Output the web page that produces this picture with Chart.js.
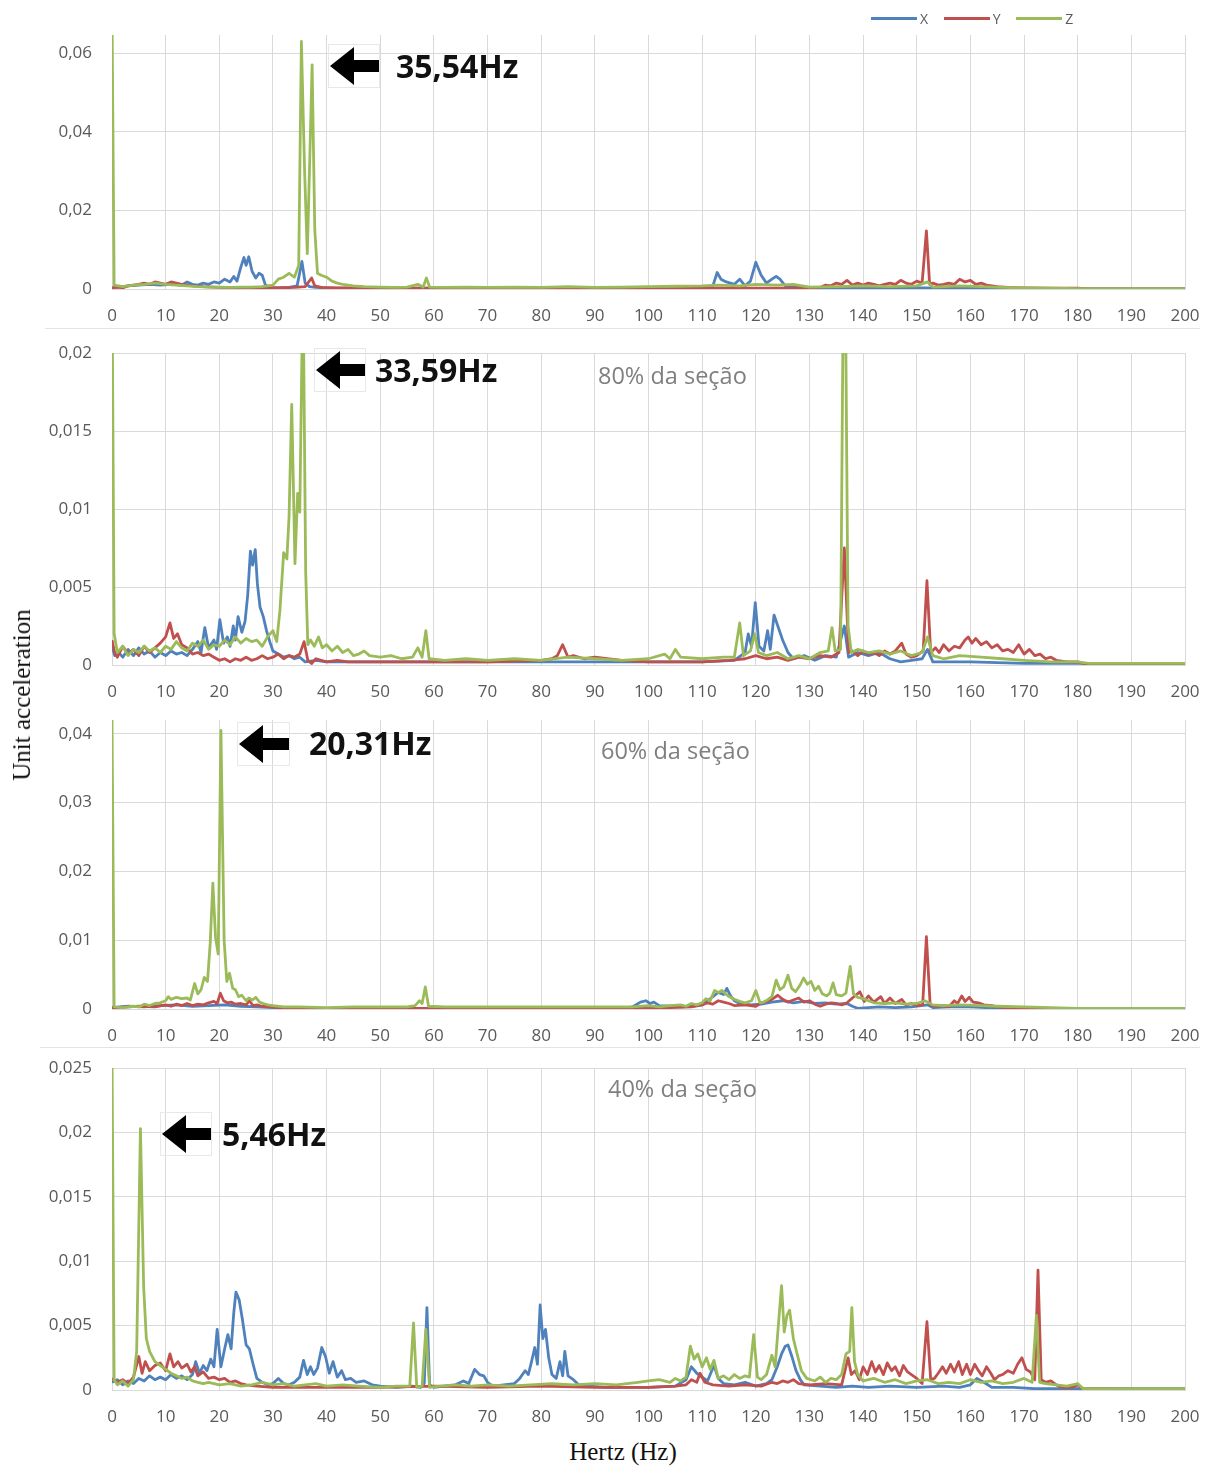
<!DOCTYPE html>
<html>
<head>
<meta charset="utf-8">
<script src="https://cdn.jsdelivr.net/npm/chart.js@4.4.1/dist/chart.umd.min.js"></script>
<style>
  body { margin: 0; background: #fff; width: 1220px; height: 1468px; position: relative; overflow: hidden; font-family: "Open Sans", sans-serif; }
  .panel { position: absolute; left: 0; width: 1220px; }
  .sep { position: absolute; height: 1px; background: #e3e3e3; }
  .peak { position: absolute; font-weight: bold; font-size: 32px; line-height: 32px; color: #111; white-space: nowrap; }
  .sec { position: absolute; font-size: 23.5px; line-height: 24px; color: #7f7f7f; white-space: nowrap; }
  .arrow { position: absolute; border: 1px solid #e8e8e8; }
  .legend { position: absolute; top: 7px; left: 871px; font-size: 14px; color: #595959; white-space: nowrap; }
  .legend span.ln { display: inline-block; width: 46px; height: 3px; vertical-align: middle; margin-right: 3px; }
  .legend span.tx { display: inline-block; margin-right: 12px; vertical-align: middle; }
  .ytitle { position: absolute; left: 22px; top: 695px; transform: translate(-50%, -50%) rotate(-90deg); font-family: "Liberation Serif", serif; font-size: 25px; white-space: nowrap; color: #111; }
  .xtitle { position: absolute; left: 623px; top: 1452px; transform: translate(-50%, -50%); font-family: "Liberation Serif", serif; font-size: 25px; white-space: nowrap; color: #111; }
</style>
</head>
<body>
<div class="sep" style="left:45px; top:328px; width:1155px;"></div>
<div class="sep" style="left:40px; top:1047px; width:1160px;"></div>

<div class="panel" style="top:0px;"><canvas id="c1" width="1220" height="330"></canvas></div>
<div class="panel" style="top:330px;"><canvas id="c2" width="1220" height="376"></canvas></div>
<div class="panel" style="top:706px;"><canvas id="c3" width="1220" height="344"></canvas></div>
<div class="panel" style="top:1050px;"><canvas id="c4" width="1220" height="381"></canvas></div>

<div class="legend">
  <span class="ln" style="background:#4F81BD"></span><span class="tx">X</span>
  <span class="ln" style="background:#C0504D"></span><span class="tx">Y</span>
  <span class="ln" style="background:#9BBB59"></span><span class="tx">Z</span>
</div>

<div class="ytitle">Unit acceleration</div>
<div class="xtitle">Hertz (Hz)</div>

<div class="sec" style="left:598px; top:363px;">80% da seção</div>
<div class="sec" style="left:601px; top:738px;">60% da seção</div>
<div class="sec" style="left:608px; top:1076px;">40% da seção</div>

<div class="peak" style="left:396px; top:50px;">35,54Hz</div>
<div class="peak" style="left:375px; top:354px;">33,59Hz</div>
<div class="peak" style="left:309px; top:727px;">20,31Hz</div>
<div class="peak" style="left:222px; top:1118px;">5,46Hz</div>

<script>
// x axis ticks (Hz)
const hzTicks = [0, 10, 20, 30, 40, 50, 60, 70, 80, 90, 100, 110, 120, 130, 140, 150, 160, 170, 180, 190, 200];

// y ticks per panel
const yTicks1 = [0, 0.02, 0.04, 0.06];
const yTicks2 = [0, 0.005, 0.01, 0.015, 0.02];
const yTicks3 = [0, 0.01, 0.02, 0.03, 0.04];
const yTicks4 = [0, 0.005, 0.01, 0.015, 0.02, 0.025];

// panel 1 (top) - [Hz, acceleration]
const x1 = [[0,0.0003],[1,0.0005],[3,0.0008],[5,0.001],[7,0.0012],[9,0.001],[11,0.0012],[13,0.001],[14,0.0018],[15,0.0012],[16,0.001],[17,0.0015],[18,0.0012],[19,0.0018],[20,0.0015],[21,0.0025],[22,0.0018],[22.7,0.0032],[23.3,0.002],[24,0.0055],[24.6,0.008],[25,0.006],[25.5,0.0082],[26.1,0.0045],[26.8,0.0028],[27.4,0.004],[28,0.0035],[28.6,0.001],[29.5,0.0004],[31,0.0003],[33,0.0004],[34.5,0.0008],[35.4,0.007],[36,0.0015],[36.8,0.0006],[38,0.0004],[40,0.0003],[50,0.0002],[80,0.0002],[110,0.0003],[112,0.0008],[112.8,0.0042],[113.5,0.0025],[114.5,0.0018],[116,0.0012],[117,0.0025],[118,0.0008],[119,0.002],[120,0.0068],[121,0.0035],[122,0.0015],[123,0.0025],[123.8,0.0032],[124.5,0.0025],[125.5,0.0008],[127,0.0005],[130,0.0003],[140,0.0003],[150,0.0003],[160,0.0002],[170,0.0001],[200,0.0001]];
const y1 = [[0,0.0002],[1,0.0005],[2,0.0003],[3,0.0008],[4,0.001],[5,0.0012],[6,0.0015],[7,0.0012],[8,0.0018],[9,0.0015],[10,0.0012],[11,0.0018],[12,0.0015],[13,0.0012],[14,0.001],[15,0.0008],[17,0.0006],[20,0.0004],[25,0.0003],[30,0.0003],[34,0.0004],[36,0.0006],[37.2,0.0028],[37.8,0.0008],[39,0.0004],[42,0.0003],[50,0.0002],[100,0.0002],[130,0.0003],[132,0.0004],[133,0.001],[134,0.0008],[135,0.0015],[136,0.0012],[137,0.0022],[138,0.001],[139,0.0015],[140,0.001],[141,0.0015],[142,0.0012],[143,0.0008],[144,0.0012],[145,0.0015],[146,0.0012],[147,0.0022],[148,0.0015],[149,0.0012],[150,0.002],[151,0.0015],[151.8,0.0148],[152.4,0.0012],[153,0.0015],[154,0.001],[155,0.0012],[156,0.0015],[157,0.0012],[158,0.0025],[159,0.0018],[160,0.0022],[161,0.0012],[162,0.0015],[163,0.001],[164,0.0008],[165,0.0006],[167,0.0004],[170,0.0003],[175,0.0002],[180,0.0002],[182,0],[200,0]];
const z1 = [[0,0.07],[0.4,0.001],[2,0.0006],[4,0.001],[6,0.0012],[8,0.0015],[10,0.0012],[12,0.001],[14,0.0008],[16,0.0006],[18,0.0005],[20,0.0005],[22,0.0004],[24,0.0005],[26,0.0005],[28,0.0006],[30,0.001],[31,0.0025],[32,0.003],[33,0.004],[34,0.003],[34.8,0.006],[35.3,0.063],[35.9,0.03],[36.4,0.009],[36.9,0.035],[37.3,0.057],[37.8,0.015],[38.3,0.004],[39,0.0035],[40,0.003],[41,0.002],[42,0.0015],[43,0.0012],[45,0.0008],[47,0.0006],[50,0.0005],[53,0.0004],[55,0.0005],[57,0.0012],[58,0.0005],[58.6,0.0028],[59.2,0.0005],[62,0.0004],[66,0.0005],[70,0.0004],[75,0.0005],[80,0.0004],[85,0.0006],[90,0.0004],[95,0.0005],[100,0.0006],[105,0.0007],[110,0.0008],[113,0.001],[117,0.0008],[120,0.0012],[124,0.001],[127,0.0012],[130,0.0005],[135,0.0006],[140,0.0008],[145,0.0006],[150,0.0008],[152,0.0018],[153,0.0005],[158,0.0008],[162,0.0006],[166,0.0004],[170,0.0003],[175,0.0002],[180,0.0001],[200,0.0001]];

// panel 2 (80% da seção)
const x2 = [[0,0.0012],[0.5,0.0006],[1,0.0009],[2,0.0005],[3,0.001],[4,0.0006],[5,0.0011],[6,0.0007],[7,0.0009],[8,0.0005],[9,0.0008],[10,0.0006],[11,0.0009],[12,0.0007],[13,0.0008],[14,0.0006],[15,0.001],[16,0.0015],[16.6,0.0008],[17.3,0.0024],[18,0.0011],[19,0.0016],[19.5,0.001],[20.1,0.0029],[20.8,0.0014],[21.5,0.0018],[22,0.0012],[22.6,0.0025],[23,0.0016],[23.5,0.0031],[24.2,0.0021],[24.8,0.0028],[25.3,0.0045],[25.8,0.0073],[26.2,0.0064],[26.7,0.0074],[27.1,0.0052],[27.6,0.0037],[28.2,0.0031],[28.8,0.0022],[29.5,0.0014],[30,0.0009],[31,0.0007],[32,0.0005],[33,0.0006],[34,0.0004],[35,0.0005],[36,0.0002],[38,0.0003],[40,0.0002],[60,0.0002],[100,0.0002],[110,0.0002],[116,0.0003],[118,0.0008],[118.6,0.002],[119.2,0.0012],[119.9,0.004],[120.6,0.0012],[121.5,0.0009],[122.2,0.0022],[122.7,0.001],[123.4,0.0032],[124.2,0.0024],[125,0.0016],[126,0.0008],[127,0.0004],[129,0.0006],[131,0.0003],[133,0.0006],[135,0.0005],[136.5,0.0025],[137.3,0.0005],[139,0.0008],[141,0.0006],[143,0.0008],[145,0.0004],[147,0.0002],[149,0.0003],[151,0.0004],[152,0.001],[153,0.0002],[160,0.0002],[170,0.0001],[200,0.0001]];
const y2 = [[0,0.0016],[0.5,0.0008],[1,0.0005],[2,0.0012],[3,0.0007],[4,0.001],[5,0.0006],[6,0.0012],[7,0.0008],[8,0.0011],[9,0.0014],[10,0.0018],[10.8,0.0027],[11.5,0.0017],[12.2,0.002],[13,0.0013],[14,0.0011],[15,0.0007],[16,0.0008],[17,0.0006],[18,0.0007],[19,0.0005],[20,0.0003],[21,0.0004],[22,0.0002],[23,0.0004],[24,0.0003],[25,0.0005],[26,0.0003],[27,0.0004],[28,0.0006],[29,0.0004],[30,0.0005],[31,0.0007],[32,0.0004],[33,0.0006],[34,0.0005],[35,0.0007],[35.8,0.0015],[36.5,0.0003],[37.2,0.0001],[38,0.0004],[40,0.0002],[42,0.0003],[44,0.0002],[50,0.0002],[60,0.0002],[70,0.0002],[80,0.0003],[82,0.0004],[83,0.0006],[84,0.0013],[85,0.0005],[86,0.0006],[88,0.0004],[90,0.0005],[95,0.0003],[100,0.0002],[110,0.0002],[115,0.0003],[118,0.0004],[120,0.0006],[122,0.0004],[124,0.0005],[126,0.0003],[128,0.0005],[130,0.0004],[132,0.0006],[134,0.0005],[135.5,0.0008],[136.5,0.0075],[137.3,0.0008],[138,0.0009],[139,0.0006],[140,0.0009],[141,0.0007],[142,0.0008],[143,0.0006],[144,0.0009],[145,0.0007],[146,0.0009],[147.2,0.0014],[148,0.0007],[149,0.0005],[150,0.0006],[151.2,0.0009],[151.9,0.0054],[152.6,0.0008],[153.5,0.0011],[154.2,0.0008],[155,0.0013],[156,0.0009],[157,0.0012],[158,0.0011],[159,0.0016],[159.6,0.0018],[160.3,0.0014],[161,0.0017],[162,0.0013],[163,0.0015],[164,0.0011],[165,0.0013],[166,0.0009],[167,0.001],[168,0.0008],[169,0.0013],[170,0.0007],[171,0.001],[172,0.0006],[173,0.0007],[174,0.0004],[175,0.0005],[176,0.0003],[178,0.0002],[180,0.0002],[181,0.0001],[182,0],[200,0]];
const z2 = [[0,0.025],[0.4,0.002],[1,0.0008],[2,0.0012],[3,0.0006],[4,0.001],[5,0.0008],[6,0.0012],[7,0.0009],[8,0.0011],[9,0.0008],[10,0.0012],[11,0.001],[12,0.0015],[13,0.0011],[14,0.0009],[15,0.0014],[16,0.0012],[17,0.0016],[18,0.001],[19,0.0013],[20,0.0012],[21,0.0016],[22,0.0013],[23,0.0018],[24,0.0014],[25,0.0017],[26,0.0015],[27,0.0016],[28,0.0012],[29,0.0018],[30,0.0022],[30.7,0.0015],[31.3,0.0035],[32,0.0072],[32.6,0.0068],[33,0.0095],[33.5,0.0167],[34.1,0.0065],[34.6,0.011],[35,0.0098],[35.6,0.025],[36.1,0.006],[36.5,0.0013],[37,0.0016],[37.7,0.0012],[38.5,0.0018],[39.2,0.0011],[40,0.0013],[41,0.0009],[42,0.0012],[43,0.0008],[44,0.001],[45,0.0006],[46,0.0007],[47,0.0009],[48,0.0006],[50,0.0005],[52,0.0006],[54,0.0004],[56,0.0005],[57,0.0011],[57.8,0.0005],[58.5,0.0022],[59.1,0.0004],[62,0.0003],[66,0.0004],[70,0.0003],[75,0.0004],[80,0.0003],[85,0.0005],[90,0.0004],[95,0.0003],[100,0.0004],[103,0.0007],[104,0.0004],[105,0.001],[106,0.0005],[110,0.0004],[114,0.0005],[116,0.0005],[117,0.0027],[117.7,0.0006],[119,0.0009],[119.8,0.002],[120.5,0.0008],[122,0.0006],[124,0.0008],[126,0.0004],[128,0.0006],[130,0.0004],[132,0.0008],[133.5,0.0009],[134.2,0.0024],[134.8,0.0009],[135.8,0.001],[136.3,0.024],[136.7,0.024],[137.2,0.0025],[137.8,0.0008],[139,0.001],[141,0.0008],[143,0.0009],[145,0.0007],[147,0.0009],[149,0.0006],[151,0.0008],[152,0.0018],[153,0.0006],[155,0.0004],[158,0.0006],[162,0.0005],[166,0.0004],[170,0.0003],[175,0.0002],[180,0.0002],[182,0.0001],[200,0.0001]];

// panel 3 (60% da seção)
const x3 = [[0,0.0002],[3,0.0004],[6,0.0003],[9,0.0005],[12,0.0006],[15,0.0004],[18,0.0005],[21,0.0006],[24,0.0004],[27,0.0003],[30,0.0002],[35,0.0001],[95,0.0001],[97,0.0003],[98.5,0.001],[99.5,0.0012],[100.3,0.0008],[101,0.001],[102,0.0005],[104,0.0004],[106,0.0003],[108,0.0004],[110,0.0006],[111,0.0012],[112,0.0018],[113,0.0024],[114,0.0021],[114.6,0.003],[115.3,0.0019],[116,0.0012],[117,0.0008],[119,0.0006],[121,0.0007],[123,0.001],[125,0.0012],[127,0.0009],[129,0.0011],[131,0.0008],[133,0.0009],[135,0.0007],[137,0.0008],[138,0.0004],[139,0.0001],[141,0.0002],[143,0.0003],[146,0.0002],[149,0.0003],[152,0.0006],[153,0.0002],[156,0.0003],[160,0.0003],[163,0.0002],[165,0.0001],[200,0.0001]];
const y3 = [[0,0.0002],[3,0.0003],[5,0.0004],[8,0.0003],[10,0.0006],[11,0.0004],[12,0.0007],[13,0.0005],[14,0.0008],[15,0.0005],[16,0.0007],[17,0.0006],[18,0.0009],[19,0.0011],[19.6,0.0008],[20.2,0.0023],[20.8,0.0012],[21.5,0.0009],[22.2,0.001],[23,0.0007],[24,0.0008],[25,0.0006],[25.6,0.0012],[26.3,0.0005],[27,0.0006],[28,0.0004],[30,0.0003],[32,0.0001],[50,0.0001],[100,0.0001],[104,0.0002],[108,0.0003],[110,0.0006],[111,0.0009],[112,0.0007],[113,0.0012],[114,0.001],[115,0.0008],[116,0.0005],[118,0.0006],[120,0.0004],[121,0.0009],[122,0.0011],[123,0.0014],[124.1,0.002],[125,0.0014],[126,0.001],[127,0.0013],[128,0.0016],[129,0.001],[130,0.0012],[131,0.0007],[132,0.0004],[133,0.0007],[134,0.0009],[135,0.0008],[136,0.0006],[137,0.0009],[138,0.0016],[139.4,0.0025],[140.2,0.0011],[141,0.0019],[142,0.001],[143.3,0.0018],[144,0.0008],[145,0.0016],[146,0.0008],[147.2,0.0014],[148,0.0006],[149,0.0008],[150,0.0005],[151.1,0.0006],[151.8,0.0105],[152.5,0.0006],[153.5,0.0004],[155,0.0005],[156,0.0003],[157,0.0012],[157.6,0.0008],[158.4,0.0019],[159,0.0011],[159.8,0.0017],[160.5,0.001],[161.5,0.0009],[162.5,0.0006],[164,0.0005],[165,0.0003],[167,0.0002],[170,0.0001],[200,0.0001]];
const z3 = [[0,0.042],[0.4,0.0003],[2,0.0002],[4,0.0004],[5,0.0003],[6,0.0007],[7,0.0005],[8,0.0008],[9,0.0009],[10,0.0012],[10.5,0.0018],[11,0.0014],[12,0.0017],[13,0.0015],[14,0.0016],[14.6,0.0013],[15.4,0.0037],[16,0.0022],[16.6,0.0028],[17.2,0.0046],[17.8,0.004],[18.3,0.0095],[18.8,0.0183],[19.3,0.0104],[19.8,0.008],[20.3,0.0405],[20.9,0.01],[21.4,0.004],[21.9,0.0052],[22.5,0.003],[23,0.0028],[23.6,0.0018],[24.2,0.002],[25,0.0012],[25.5,0.0016],[26.2,0.0013],[26.8,0.0017],[27.5,0.001],[28.2,0.0008],[29,0.0006],[30,0.0005],[32,0.0003],[35,0.0003],[40,0.0002],[45,0.0003],[50,0.0003],[55,0.0003],[56.5,0.0005],[57.3,0.0012],[57.8,0.0008],[58.4,0.0032],[59,0.0004],[62,0.0003],[70,0.0003],[80,0.0003],[90,0.0003],[97,0.0003],[100,0.0005],[102,0.0003],[104,0.0005],[106,0.0006],[107,0.0004],[108,0.0008],[109,0.0006],[110,0.0009],[110.7,0.0015],[111.5,0.0012],[112.3,0.0027],[113,0.0024],[113.7,0.0027],[114.4,0.0022],[115,0.0018],[116,0.0014],[117,0.0011],[118,0.0009],[119.2,0.0012],[120,0.0027],[120.8,0.0009],[121.5,0.001],[122.3,0.0014],[123,0.0018],[123.8,0.0042],[124.5,0.0028],[125.2,0.0032],[126,0.0049],[126.7,0.003],[127.4,0.0025],[128.2,0.0034],[128.9,0.0045],[129.6,0.0036],[130.3,0.004],[131,0.0027],[131.7,0.0033],[132.4,0.0022],[133.2,0.0019],[133.8,0.0023],[134.4,0.0038],[135,0.0021],[136,0.0019],[136.8,0.0023],[137.6,0.0062],[138.2,0.0022],[139,0.0017],[140,0.0015],[141,0.0012],[142,0.0009],[144,0.0008],[146,0.0009],[148,0.0007],[150,0.0008],[151.5,0.0012],[153,0.0006],[155,0.0005],[158,0.0006],[162,0.0005],[165,0.0004],[170,0.0003],[175,0.0002],[180,0.0001],[200,0.0001]];

// panel 4 (40% da seção)
const x4 = [[0,0.0006],[1,0.0008],[2,0.0004],[3,0.0007],[4,0.0005],[5,0.0009],[6,0.0007],[7,0.0011],[8,0.0008],[9,0.001],[10,0.0008],[11,0.0012],[12,0.0009],[13,0.0011],[14,0.0008],[15,0.0012],[15.6,0.0022],[16.3,0.0013],[17,0.0019],[17.7,0.0015],[18.4,0.0024],[19,0.0018],[19.6,0.0047],[20.3,0.0018],[21,0.0032],[21.6,0.0043],[22.2,0.0032],[22.7,0.006],[23.1,0.0076],[23.7,0.007],[24.3,0.0055],[25,0.0035],[25.6,0.0032],[26.3,0.002],[27,0.0009],[28,0.0006],[29,0.0004],[30,0.0005],[31,0.0009],[32,0.0005],[33,0.0004],[34,0.0006],[35,0.001],[35.7,0.0023],[36.4,0.0012],[37,0.0018],[37.6,0.0012],[38.3,0.0017],[39.1,0.0033],[39.8,0.0026],[40.5,0.0013],[41.2,0.0022],[42,0.001],[42.8,0.0015],[43.5,0.0008],[44.5,0.0009],[45.5,0.0006],[47,0.0007],[48.5,0.0004],[50,0.0003],[53,0.0002],[56,0.0003],[57.5,0.0002],[58.2,0.0005],[58.7,0.0064],[59.2,0.0004],[60,0.0002],[62,0.0003],[64,0.0004],[65.5,0.0007],[66.5,0.0005],[67.6,0.0016],[68.5,0.0012],[69.3,0.0011],[70,0.0006],[71,0.0003],[73,0.0004],[75,0.0005],[76,0.0009],[77,0.0015],[77.6,0.0012],[78.2,0.0022],[78.8,0.0033],[79.3,0.002],[79.8,0.0066],[80.3,0.004],[80.8,0.0047],[81.4,0.0025],[82,0.0012],[82.8,0.0009],[83.5,0.0022],[84,0.0011],[84.4,0.003],[85,0.0011],[86,0.0008],[87,0.0004],[89,0.0003],[92,0.0002],[100,0.0002],[105,0.0003],[107,0.0008],[108,0.0018],[109,0.0013],[110,0.001],[111,0.0007],[112.2,0.0019],[113,0.0009],[114,0.0005],[116,0.0004],[118,0.0006],[120,0.0003],[122,0.0005],[123,0.0008],[124,0.0018],[124.8,0.0028],[125.5,0.0034],[126,0.0035],[126.8,0.0025],[127.5,0.0015],[128.3,0.0008],[129,0.0004],[132,0.0003],[135,0.0002],[138,0.0003],[141,0.0002],[145,0.0003],[150,0.0002],[155,0.0003],[158,0.0002],[160,0.0004],[161.2,0.0009],[162.5,0.0006],[164,0.0002],[168,0.0002],[172,0.0001],[200,0.0001]];
const y4 = [[0,0.0009],[1,0.0006],[2,0.0008],[3,0.0005],[4,0.001],[5,0.0026],[5.6,0.0013],[6.2,0.0022],[7,0.0015],[8,0.0019],[9,0.0021],[10,0.0015],[10.8,0.0028],[11.5,0.0018],[12.3,0.0022],[13,0.0017],[14,0.002],[14.7,0.0014],[15.4,0.0018],[16,0.0011],[17,0.0014],[18,0.0009],[19,0.001],[20,0.0008],[21,0.0009],[22,0.0006],[23,0.0007],[24,0.0005],[25,0.0004],[27,0.0003],[30,0.0002],[40,0.0002],[50,0.0002],[60,0.0003],[70,0.0002],[80,0.0003],[90,0.0002],[100,0.0002],[105,0.0003],[107,0.0004],[108,0.0008],[109,0.0006],[109.6,0.0013],[110.5,0.0006],[112,0.0004],[115,0.0003],[118,0.0004],[121,0.0003],[123,0.0006],[124,0.0005],[125,0.0007],[126,0.0006],[127,0.0008],[128,0.0005],[130,0.0004],[133,0.0005],[136,0.0004],[137.2,0.0025],[137.8,0.0012],[138.5,0.0015],[139.3,0.0008],[140,0.0018],[140.8,0.0012],[141.6,0.0022],[142.3,0.0014],[143,0.0019],[143.8,0.0012],[144.5,0.0021],[145.3,0.0015],[146,0.0018],[146.8,0.0011],[147.5,0.0019],[148.3,0.0014],[149,0.0012],[150,0.0009],[151,0.0005],[151.9,0.0053],[152.6,0.0008],[153.3,0.0009],[154,0.0013],[154.8,0.0018],[155.5,0.0013],[156.3,0.002],[157,0.0014],[157.8,0.0022],[158.5,0.0012],[159.3,0.002],[160,0.0012],[160.8,0.002],[161.5,0.0015],[162.2,0.0011],[163,0.0018],[163.8,0.0013],[164.5,0.0008],[165.3,0.0011],[166,0.0012],[167,0.0015],[168,0.0013],[168.8,0.002],[169.6,0.0025],[170.4,0.0016],[171.2,0.0014],[172,0.0008],[172.6,0.0093],[173.2,0.0008],[174,0.0006],[175,0.0007],[176,0.0004],[177,0.0002],[179,0.0002],[180,0.0004],[181,0.0001],[200,0]];
const z4 = [[0,0.026],[0.4,0.0008],[1,0.0004],[2,0.0007],[3,0.0003],[4,0.0008],[4.6,0.003],[5.3,0.0203],[5.9,0.008],[6.4,0.004],[7,0.003],[8,0.0022],[9,0.0019],[10,0.0016],[11,0.0013],[12,0.0011],[13,0.0009],[14,0.001],[15,0.0007],[16,0.0006],[17,0.0005],[18,0.0006],[20,0.0004],[22,0.0005],[24,0.0003],[26,0.0004],[28,0.0006],[30,0.0004],[32,0.0005],[34,0.0003],[36,0.0004],[38,0.0005],[40,0.0003],[43,0.0004],[46,0.0003],[50,0.0002],[53,0.0003],[55.5,0.0003],[56.2,0.0052],[56.8,0.0002],[57.8,0.0003],[58.5,0.0047],[59.2,0.0002],[61,0.0003],[64,0.0004],[67,0.0003],[70,0.0004],[74,0.0003],[78,0.0004],[82,0.0005],[86,0.0004],[90,0.0005],[94,0.0004],[98,0.0006],[100,0.0007],[102,0.0008],[104,0.0006],[105,0.0009],[106,0.0007],[107,0.001],[107.8,0.0034],[108.5,0.0024],[109.2,0.0028],[110,0.0018],[110.8,0.0025],[111.5,0.0016],[112.2,0.0023],[113,0.0009],[114,0.0011],[115,0.0008],[116,0.0012],[117,0.0009],[118,0.0011],[118.8,0.001],[119.6,0.0043],[120.3,0.001],[121,0.0008],[122,0.0012],[123,0.0027],[123.6,0.0018],[124.2,0.005],[124.8,0.0081],[125.3,0.0045],[125.8,0.0058],[126.3,0.0062],[127,0.004],[127.7,0.0028],[128.5,0.0015],[129.5,0.0009],[131,0.0007],[132,0.001],[133,0.0006],[134,0.0009],[135,0.0008],[136,0.0012],[136.8,0.0028],[137.5,0.003],[137.9,0.0064],[138.4,0.0022],[139,0.0012],[140,0.0007],[142,0.0009],[144,0.0006],[146,0.0008],[148,0.0005],[150,0.0007],[152,0.0008],[154,0.0005],[156,0.0006],[158,0.0005],[160,0.0008],[162,0.0006],[164,0.0007],[166,0.0005],[168,0.0006],[170,0.0009],[171.5,0.0006],[172.3,0.0058],[172.9,0.0006],[174,0.0005],[176,0.0004],[178,0.0003],[180,0.0005],[181,0.0001],[200,0.0001]];

const blue = '#4F81BD';
const red = '#C0504D';
const green = '#9BBB59';
const gridColor = '#D9D9D9';
const tickFont = { family: 'Open Sans', size: 17 };

const pts = (arr) => arr.map(p => ({ x: p[0], y: p[1] }));
const fmt = (v) => String(v).replace('.', ',');

function drawPanel(id, sx, sy, sz, yMax, yTicks, padTop, axisH) {
    const ctx = document.getElementById(id).getContext('2d');
    return new Chart(ctx, {
        type: 'line',
        data: {
            datasets: [
                { label: 'X', data: pts(sx), borderColor: blue, order: 3 },
                { label: 'Y', data: pts(sy), borderColor: red, order: 2 },
                { label: 'Z', data: pts(sz), borderColor: green, order: 1 },
            ],
        },
        options: {
            responsive: false,
            animation: false,
            devicePixelRatio: 1,
            layout: { padding: { top: padTop, right: 35, left: 0, bottom: 0 } },
            elements: {
                line: { borderWidth: 2.8, tension: 0, borderJoinStyle: 'round' },
                point: { radius: 0 },
            },
            plugins: { legend: { display: false }, tooltip: { enabled: false } },
            scales: {
                x: {
                    type: 'linear',
                    min: 0,
                    max: 200,
                    afterBuildTicks: (s) => { s.ticks = hzTicks.map(v => ({ value: v })); },
                    afterFit: (s) => { s.height = axisH; },
                    grid: { color: gridColor, tickLength: 17, tickColor: 'rgba(0,0,0,0)' },
                    border: { color: gridColor },
                    ticks: { color: '#595959', font: tickFont, padding: 0, maxRotation: 0, autoSkip: false },
                },
                y: {
                    min: 0,
                    max: yMax,
                    afterBuildTicks: (s) => { s.ticks = yTicks.map(v => ({ value: v })); },
                    afterFit: (s) => { s.width = 112; },
                    grid: { color: gridColor, tickLength: 20, tickColor: 'rgba(0,0,0,0)' },
                    border: { color: gridColor },
                    ticks: { color: '#595959', font: tickFont, padding: 0, callback: (v) => fmt(v) },
                },
            },
        },
    });
}

drawPanel('c1', x1, y1, z1, 0.0646, yTicks1, 35, 41);
drawPanel('c2', x2, y2, z2, 0.02, yTicks2, 23, 41);
drawPanel('c3', x3, y3, z3, 0.042, yTicks3, 14, 41);
drawPanel('c4', x4, y4, z4, 0.025, yTicks4, 18, 41);
</script>

<svg class="arrow" style="left:328px; top:44px;" width="50" height="42"><polygon points="1,21 25,2 25,15 50,15 50,27 25,27 25,40" fill="#000"/></svg>
<svg class="arrow" style="left:314px; top:348px;" width="50" height="42"><polygon points="1,21 25,2 25,15 50,15 50,27 25,27 25,40" fill="#000"/></svg>
<svg class="arrow" style="left:237px; top:722px;" width="51" height="42"><polygon points="1,21 25,2 25,15 51,15 51,27 25,27 25,40" fill="#000"/></svg>
<svg class="arrow" style="left:160px; top:1112px;" width="50" height="42"><polygon points="1,21 25,2 25,15 50,15 50,27 25,27 25,40" fill="#000"/></svg>
</body>
</html>
